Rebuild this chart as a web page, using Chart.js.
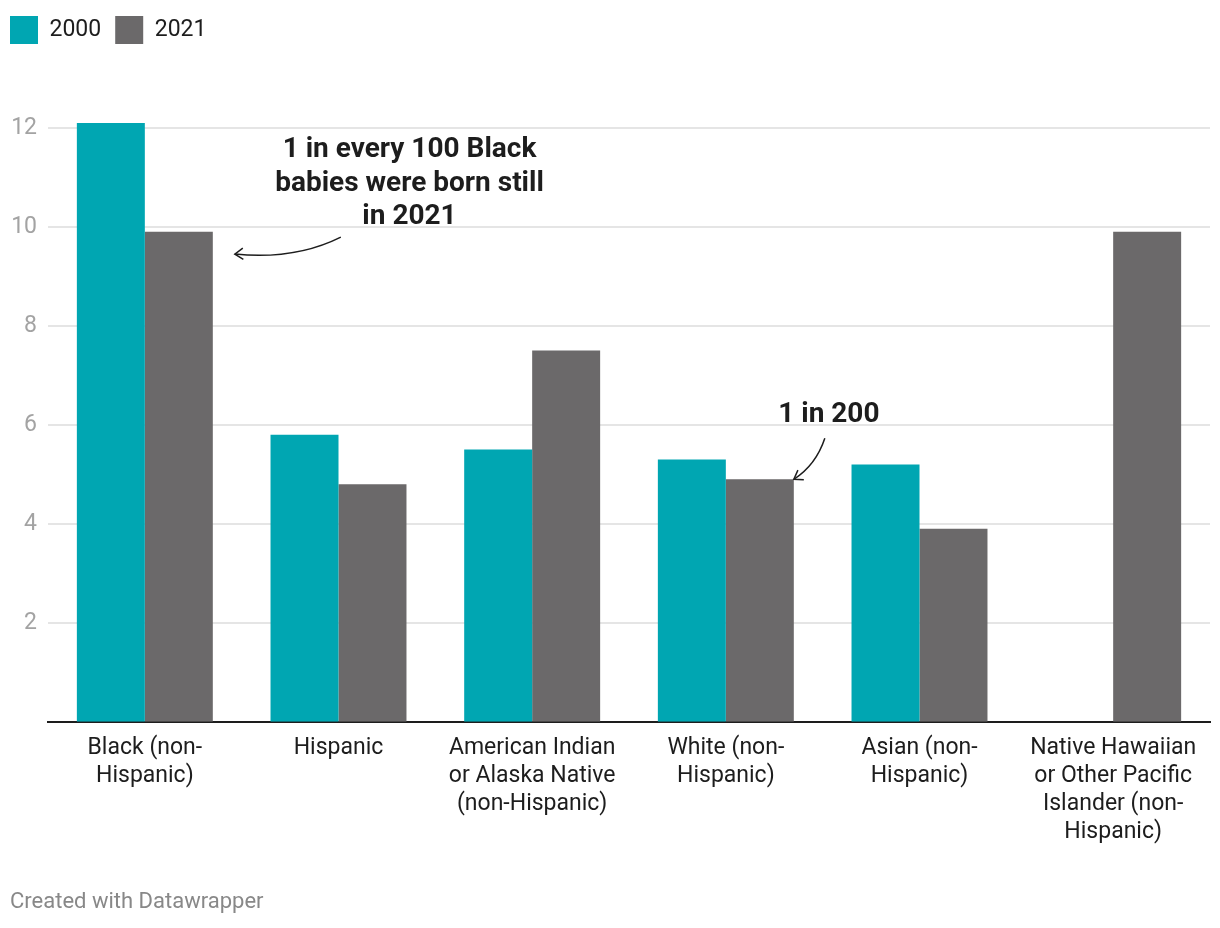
<!DOCTYPE html>
<html>
<head>
<meta charset="utf-8">
<script src="https://cdn.jsdelivr.net/npm/chart.js@4.4.0/dist/chart.umd.min.js"></script>
<style>
  html, body { margin: 0; padding: 0; background: #fff; }
  #wrap { position: relative; width: 1220px; height: 928px; }
</style>
</head>
<body>
<div id="wrap"><canvas id="stillbirthChart"></canvas></div>
<script>
const categories = [
    ['Black (non-', 'Hispanic)'],
    'Hispanic',
    ['American Indian', 'or Alaska Native', '(non-Hispanic)'],
    ['White (non-', 'Hispanic)'],
    ['Asian (non-', 'Hispanic)'],
    ['Native Hawaiian', 'or Other Pacific', 'Islander (non-', 'Hispanic)'],
];
const values2000 = [12.1, 5.8, 5.5, 5.3, 5.2, null];
const values2021 = [9.9, 4.8, 7.5, 4.9, 3.9, 9.9];
const yTicks = [2, 4, 6, 8, 10, 12];

const FONT = 'Roboto, "Noto Sans", sans-serif';

// legend needs extra room below it before the plot starts
const legendSpace = {
    id: 'legendSpace',
    beforeInit(chart) {
        const origFit = chart.legend.fit;
        chart.legend.fit = function fit() {
            origFit.bind(chart.legend)();
            this.height = 116;
        };
    },
};

function drawArrowHead(ctx, tipX, tipY, angle, len) {
    ctx.beginPath();
    ctx.moveTo(tipX + len * Math.cos(angle - 0.6), tipY + len * Math.sin(angle - 0.6));
    ctx.lineTo(tipX, tipY);
    ctx.lineTo(tipX + len * Math.cos(angle + 0.6), tipY + len * Math.sin(angle + 0.6));
    ctx.stroke();
}

const notes = {
    id: 'notes',
    afterDraw(chart) {
        const ctx = chart.ctx;
        const x = chart.scales.x;
        const y = chart.scales.y;
        ctx.save();
        ctx.fillStyle = '#1d1d1d';
        ctx.font = 'bold 28px ' + FONT;
        ctx.textAlign = 'center';
        ctx.textBaseline = 'middle';

        // Black (non-Hispanic) note
        const cx1 = x.getPixelForValue(1) + 71;
        const lines = ['1 in every 100 Black', 'babies were born still', 'in 2021'];
        lines.forEach((t, i) => ctx.fillText(t, cx1, y.getPixelForValue(11.55) + i * 33.5));

        ctx.strokeStyle = '#1d1d1d';
        ctx.lineWidth = 1.5;
        const bx = x.getPixelForValue(0) + 90;
        const by = y.getPixelForValue(9.45);
        ctx.beginPath();
        ctx.moveTo(bx + 106, by - 17);
        ctx.quadraticCurveTo(bx + 60, by + 6, bx, by);
        ctx.stroke();
        drawArrowHead(ctx, bx, by, -0.05, 10);

        // White (non-Hispanic) note
        const cx2 = x.getPixelForValue(3) + 103;
        ctx.fillText('1 in 200', cx2, y.getPixelForValue(6.2));
        const wx = x.getPixelForValue(3) + 68;
        const wy = y.getPixelForValue(4.9);
        ctx.beginPath();
        ctx.moveTo(wx + 31, wy - 41);
        ctx.quadraticCurveTo(wx + 22, wy - 14, wx, wy);
        ctx.stroke();
        drawArrowHead(ctx, wx, wy, -0.55, 10);

        // footer
        ctx.font = '22px ' + FONT;
        ctx.fillStyle = '#888888';
        ctx.textAlign = 'left';
        ctx.fillText('Created with Datawrapper', 10, 902);
        ctx.restore();
    },
};

const ctx = document.getElementById('stillbirthChart').getContext('2d');
const stillbirthChart = new Chart(ctx, {
    type: 'bar',
    data: {
        labels: categories,
        datasets: [
            {
                label: '2000',
                data: values2000,
                backgroundColor: '#00a6b2',
                borderWidth: 0,
                barPercentage: 1,
                categoryPercentage: 0.702,
            },
            {
                label: '2021',
                data: values2021,
                backgroundColor: '#6b696a',
                borderWidth: 0,
                barPercentage: 1,
                categoryPercentage: 0.702,
            },
        ],
    },
    options: {
        responsive: true,
        maintainAspectRatio: false,
        animation: false,
        layout: { padding: { left: -4, right: 10, top: 2, bottom: 70 } },
        plugins: {
            tooltip: { enabled: false },
            legend: {
                position: 'top',
                align: 'start',
                labels: {
                    boxWidth: 28,
                    boxHeight: 28,
                    padding: 14,
                    color: '#1d1d1d',
                    font: { family: FONT, size: 23 },
                },
            },
        },
        scales: {
            x: {
                grid: { display: false, drawTicks: false },
                border: { display: true, color: '#1d1d1d', width: 2 },
                ticks: {
                    color: '#1d1d1d',
                    padding: 12,
                    maxRotation: 0,
                    autoSkip: false,
                    font: { family: FONT, size: 23, lineHeight: 1.22 },
                },
            },
            y: {
                min: 0,
                max: 12.2,
                afterBuildTicks(scale) {
                    scale.ticks = yTicks.map(v => ({ value: v }));
                },
                afterFit(scale) {
                    scale.width = 52;
                },
                grid: { color: '#e5e5e5', lineWidth: 2, drawTicks: false },
                border: { display: false },
                ticks: {
                    color: '#a3a3a3',
                    padding: 11,
                    font: { family: FONT, size: 23 },
                },
            },
        },
    },
    plugins: [legendSpace, notes],
});
</script>
</body>
</html>
